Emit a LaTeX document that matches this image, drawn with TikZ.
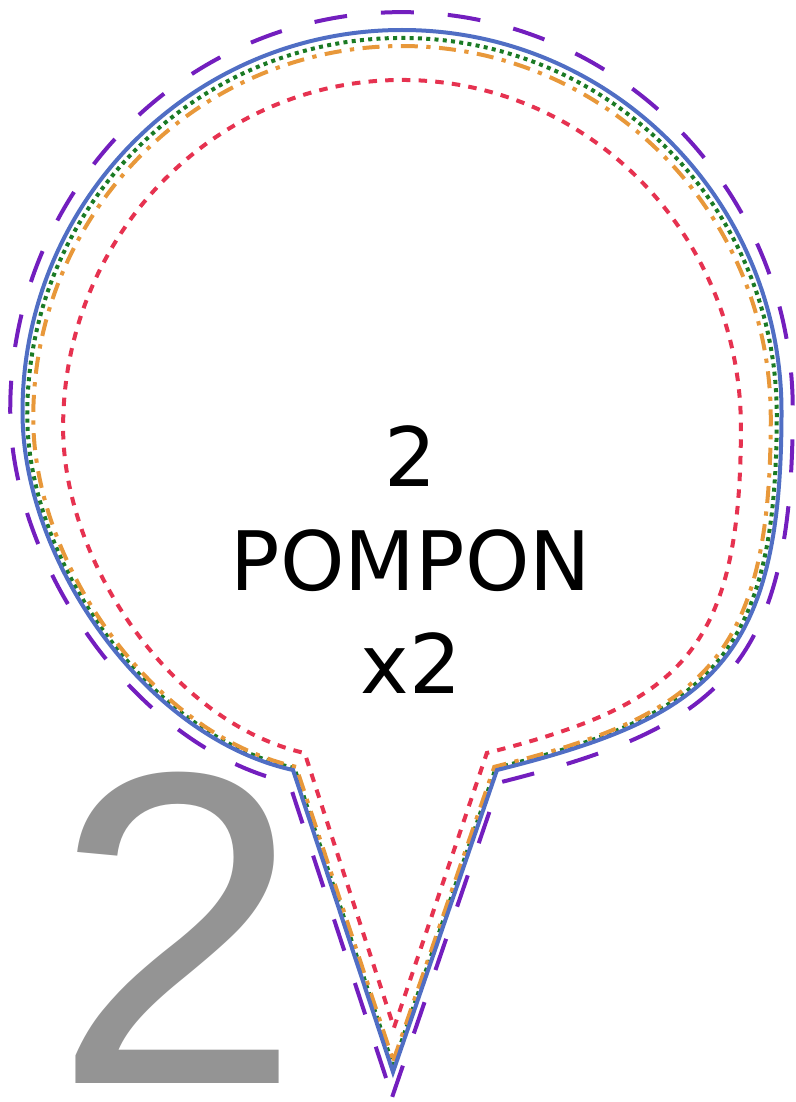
\documentclass[tikz,border=0pt]{standalone}
\usepackage{fontspec}
\newfontfamily\rotulofont{DejaVu Sans}
\newfontfamily\cifrafont{Liberation Sans}

\definecolor{azulglobo}{RGB}{80,110,196}
\definecolor{moradoglobo}{RGB}{115,30,190}
\definecolor{verdeglobo}{RGB}{26,122,36}
\definecolor{naranjaglobo}{RGB}{232,152,58}
\definecolor{rojoglobo}{RGB}{230,50,80}
\definecolor{grisglobo}{RGB}{148,148,148}

% Contorno del globo (centro en el origen local, empieza en la punta)
\newcommand{\globo}[1]{%
  \draw[#1] (-9,660) -- (95,358) .. controls (308,305) and (379.5,250) .. (379.5,0)
    arc[start angle=0, end angle=-180, x radius=379.5, y radius=382]
    .. controls (-379.5,150) and (-255.6,325.8) .. (-109,358)
    -- cycle;}

\begin{document}
\begin{tikzpicture}[x=1pt, y=-1pt,
    linea/.style={line width=4pt},
    morado/.style={linea, moradoglobo, dash pattern=on 33pt off 34pt},
    rojo/.style={linea, rojoglobo, dash pattern=on 8.5pt off 8.2pt},
    verde/.style={linea, verdeglobo, dash pattern=on 4pt off 4.3pt},
    naranja/.style={linea, naranjaglobo, dash pattern=on 17pt off 8.5pt on 4.3pt off 8.5pt},
    azul/.style={linea, azulglobo},
    rotulo/.style={font=\rotulofont\fontsize{82}{100}\selectfont, inner sep=0pt, anchor=base}]

    % Marco de la figura
    \useasboundingbox (0,0) rectangle (795,1102);

    % Cifra grande de fondo
    \node[font=\cifrafont\fontsize{446}{446}\selectfont, text=grisglobo, inner sep=0pt, anchor=base west]
        (cifra) at (53,1083) {2};

    % Centros de cada contorno
    \coordinate (cMorado) at (401.5,409.8);
    \coordinate (cRojo) at (402,427.4);
    \coordinate (cVerde) at (402,414.8);
    \coordinate (cNaranja) at (402,418.1);
    \coordinate (cAzul) at (402,412);

    % Contornos (de fuera hacia dentro)
    \globo{morado, shift={(cMorado)}, xscale=1.031, yscale=1.041}
    \globo{rojo, shift={(cRojo)}, xscale=0.893, yscale=0.9095}
    \globo{verde, shift={(cVerde)}, xscale=0.9875, yscale=0.9865}
    \globo{naranja, shift={(cNaranja)}, xscale=0.9717, yscale=0.974}
    \globo{azul, shift={(cAzul)}}

    % Texto central
    \node[rotulo] (numero) at (411,486) {2};
    \node[rotulo] (nombre) at (411,590) {POMPON};
    \node[rotulo] (cantidad) at (411,693) {x2};
\end{tikzpicture}
\end{document}
